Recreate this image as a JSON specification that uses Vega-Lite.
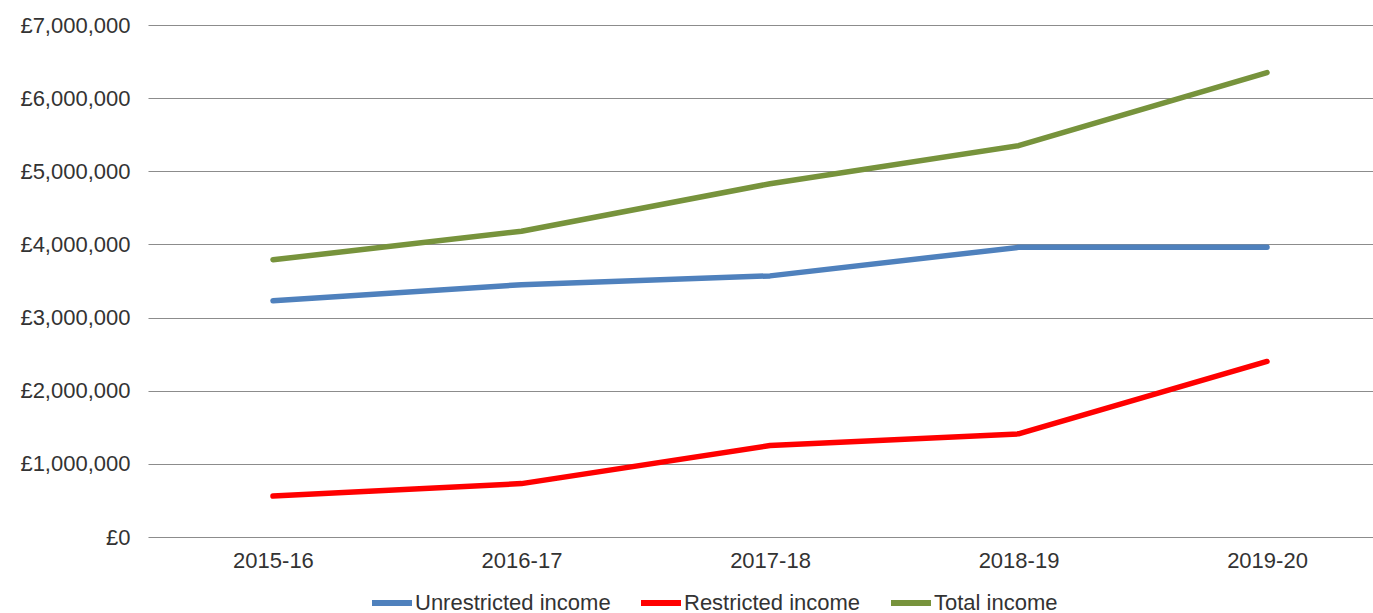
{
  "$schema": "https://vega.github.io/schema/vega-lite/v6.json",
  "autosize": {"type": "none"},
  "width": 1244,
  "height": 512,
  "padding": {"left": 148, "top": 25, "right": 0, "bottom": 76},
  "background": "white",
  "data": {
    "values": [
      {"year": "2015-16", "series": "Unrestricted income", "value": 3230000},
      {"year": "2016-17", "series": "Unrestricted income", "value": 3450000},
      {"year": "2017-18", "series": "Unrestricted income", "value": 3570000},
      {"year": "2018-19", "series": "Unrestricted income", "value": 3960000},
      {"year": "2019-20", "series": "Unrestricted income", "value": 3960000},
      {"year": "2015-16", "series": "Restricted income", "value": 560000},
      {"year": "2016-17", "series": "Restricted income", "value": 730000},
      {"year": "2017-18", "series": "Restricted income", "value": 1250000},
      {"year": "2018-19", "series": "Restricted income", "value": 1410000},
      {"year": "2019-20", "series": "Restricted income", "value": 2400000},
      {"year": "2015-16", "series": "Total income", "value": 3790000},
      {"year": "2016-17", "series": "Total income", "value": 4180000},
      {"year": "2017-18", "series": "Total income", "value": 4830000},
      {"year": "2018-19", "series": "Total income", "value": 5350000},
      {"year": "2019-20", "series": "Total income", "value": 6350000}
    ]
  },
  "mark": {"type": "line", "strokeWidth": 5.5, "strokeCap": "round", "strokeJoin": "round"},
  "encoding": {
    "x": {
      "field": "year",
      "type": "ordinal",
      "scale": {"type": "point", "padding": 0.503},
      "axis": {
        "title": null,
        "labelAngle": 0,
        "domain": false,
        "ticks": false,
        "grid": false,
        "labelFontSize": 22,
        "labelFont": "Liberation Sans",
        "labelColor": "#333333",
        "labelPadding": 13
      }
    },
    "y": {
      "field": "value",
      "type": "quantitative",
      "scale": {"domain": [0, 7000000], "nice": false},
      "axis": {
        "title": null,
        "values": [0, 1000000, 2000000, 3000000, 4000000, 5000000, 6000000, 7000000],
        "labelExpr": "'£' + format(datum.value, ',')",
        "domain": false,
        "ticks": false,
        "grid": true,
        "gridColor": "#8c8c8c",
        "gridWidth": 1.2,
        "labelFontSize": 22,
        "labelFont": "Liberation Sans",
        "labelColor": "#333333",
        "labelPadding": 18
      }
    },
    "color": {
      "field": "series",
      "type": "nominal",
      "scale": {
        "domain": ["Unrestricted income", "Restricted income", "Total income"],
        "range": ["#4F81BD", "#FF0000", "#77933C"]
      },
      "legend": {
        "title": null,
        "orient": "none",
        "legendX": 221,
        "legendY": 555,
        "direction": "horizontal",
        "symbolType": "stroke",
        "symbolSize": 1600,
        "symbolStrokeWidth": 6,
        "labelFontSize": 22,
        "labelFont": "Liberation Sans",
        "labelColor": "#333333",
        "labelOffset": 0,
        "labelLimit": 400,
        "columnPadding": 18
      }
    }
  },
  "config": {"view": {"stroke": null}}
}
